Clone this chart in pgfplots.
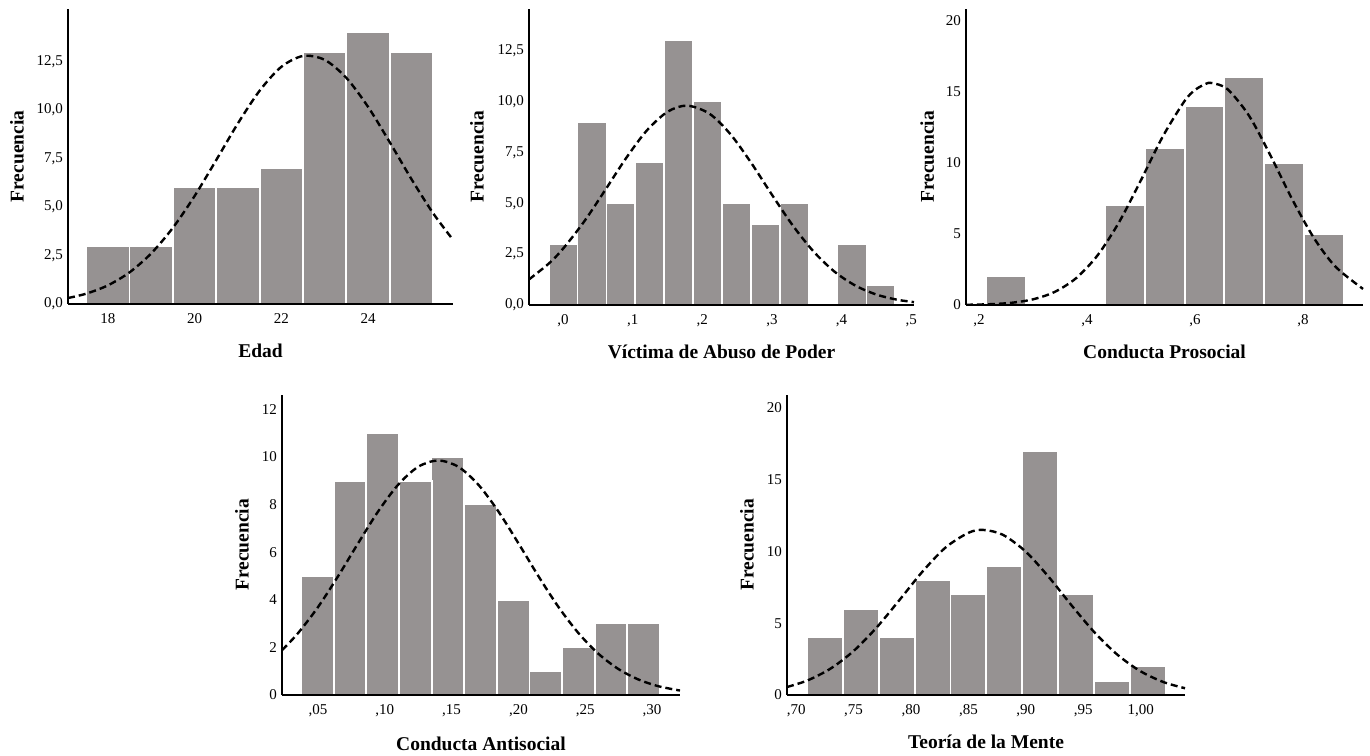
\documentclass[border=0pt]{standalone}
\usepackage{fontspec}
\setmainfont{Liberation Serif}
\usepackage{pgfplots}
\pgfplotsset{compat=1.18}
\definecolor{bargray}{RGB}{150,146,146}
\pgfplotsset{
  hist/.style={
    scale only axis,
    axis on top,
    clip=false,
    axis x line*=bottom, axis y line*=left,
    axis line style={line width=2.6pt, black},
    major tick length=0pt,
    tick style={draw=none},
    xticklabel style={font=\fontsize{15}{18}\selectfont, inner sep=0pt, anchor=north, yshift=-9pt},
    yticklabel style={font=\fontsize{15}{18}\selectfont, inner sep=0pt, anchor=east, xshift=-5pt},
    every axis y label/.style={rotate=90, anchor=center, font=\fontsize{19.5}{23}\selectfont\bfseries},
    every axis x label/.style={anchor=center, font=\fontsize{19.5}{23}\selectfont\bfseries},
    ylabel={Frecuencia},
    ymin=0,
  },
  bars/.style={ybar, fill=bargray, draw=white, line width=1.8pt},
  normal/.style={black, line width=2.4pt, dash pattern=on 7pt off 4pt, smooth, no markers},
}
\begin{document}
\begin{tikzpicture}
\path (0pt,0pt) rectangle (1370pt,755pt);

% Panel 1: Edad
\begin{axis}[hist, at={(68pt,451pt)}, anchor=south west, width=385pt, height=295pt,
  xmin=17.08, xmax=25.96, ymax=15.2,
  xtick={18,20,22,24}, xticklabels={18,20,22,24},
  ytick={0,2.5,5,7.5,10,12.5}, yticklabels={{0,0},{2,5},{5,0},{7,5},{10,0},{12,5}},
  xlabel={Edad},
  xlabel style={at={(axis description cs:0.5,-0.16)}},
  ylabel style={at={(axis description cs:-0.1325,0.5)}}]
\addplot[bars, bar width=1] coordinates {(18,3)(19,3)(20,6)(21,6)(22,7)(23,13)(24,14)(25,13)};
\addplot[normal] coordinates {(17.08,0.309)(17.5,0.532)(18,0.960)(18.5,1.632)(19,2.610)(19.5,3.930)(20,5.564)(20.5,7.421)(21,9.310)(21.5,10.99)(22,12.22)(22.5,12.78)(23,12.58)(23.5,11.65)(24,10.16)(24.5,8.34)(25,6.44)(25.5,4.68)(25.96,3.31)};
\end{axis}

% Panel 2: Victima de Abuso de Poder
\begin{axis}[hist, at={(529pt,450pt)}, anchor=south west, width=385pt, height=296pt,
  xmin=-0.049, xmax=0.504, ymax=14.55,
  xtick={0,0.1,0.2,0.3,0.4,0.5}, xticklabels={{,0},{,1},{,2},{,3},{,4},{,5}},
  ytick={0,2.5,5,7.5,10,12.5}, yticklabels={{0,0},{2,5},{5,0},{7,5},{10,0},{12,5}},
  xlabel={Víctima de Abuso de Poder},
  xlabel style={at={(axis description cs:0.5,-0.159)}},
  ylabel style={at={(axis description cs:-0.135,0.5)}}]
\addplot[bars, bar width=0.0415] coordinates {(0,3)(0.0415,9)(0.083,5)(0.1245,7)(0.166,13)(0.2075,10)(0.249,5)(0.2905,4)(0.332,5)(0.415,3)(0.4565,1)};
\addplot[normal] coordinates {(-0.049,1.256)(-0.02,2.054)(0.0,2.771)(0.03,4.093)(0.06,5.626)(0.09,7.197)(0.12,8.570)(0.15,9.498)(0.178,9.8)(0.21,9.408)(0.24,8.409)(0.27,6.994)(0.30,5.417)(0.33,3.902)(0.36,2.618)(0.39,1.634)(0.42,0.950)(0.45,0.513)(0.48,0.258)(0.504,0.142)};
\end{axis}

% Panel 3: Conducta Prosocial
\begin{axis}[hist, at={(966pt,450pt)}, anchor=south west, width=397pt, height=296pt,
  xmin=0.176, xmax=0.911, ymax=20.8,
  xtick={0.2,0.4,0.6,0.8}, xticklabels={{,2},{,4},{,6},{,8}},
  ytick={0,5,10,15,20}, yticklabels={0,5,10,15,20},
  xlabel={Conducta Prosocial},
  xlabel style={at={(axis description cs:0.5,-0.159)}},
  ylabel style={at={(axis description cs:-0.098,0.5)}}]
\addplot[bars, bar width=0.0735] coordinates {(0.25,2)(0.4705,7)(0.544,11)(0.6175,14)(0.691,16)(0.7645,10)(0.838,5)};
\addplot[normal] coordinates {(0.176,0.015)(0.22,0.055)(0.26,0.155)(0.30,0.398)(0.34,0.916)(0.38,1.891)(0.42,3.512)(0.46,5.861)(0.50,8.781)(0.54,11.82)(0.58,14.30)(0.60,15.11)(0.62,15.54)(0.631,15.6)(0.66,15.17)(0.70,13.30)(0.74,10.48)(0.78,7.42)(0.82,4.716)(0.86,2.694)(0.911,1.130)};
\end{axis}

% Panel 4: Conducta Antisocial
\begin{axis}[hist, at={(282pt,60pt)}, anchor=south west, width=398pt, height=300pt,
  xmin=0.023, xmax=0.321, ymax=12.6,
  xtick={0.05,0.10,0.15,0.20,0.25,0.30}, xticklabels={{,05},{,10},{,15},{,20},{,25},{,30}},
  ytick={0,2,4,6,8,10,12}, yticklabels={0,2,4,6,8,10,12},
  xlabel={Conducta Antisocial},
  xlabel style={at={(axis description cs:0.5,-0.163)}},
  ylabel style={at={(axis description cs:-0.1005,0.5)}}]
\addplot[bars, bar width=0.02443] coordinates {(0.0495,5)(0.0739,9)(0.0984,11)(0.1228,9)(0.1472,10)(0.1717,8)(0.1961,4)(0.2205,1)(0.2449,2)(0.2694,3)(0.2938,3)};
\addplot[normal] coordinates {(0.023,1.880)(0.035,2.597)(0.05,3.697)(0.065,4.990)(0.08,6.374)(0.095,7.711)(0.11,8.834)(0.125,9.586)(0.14,9.85)(0.155,9.586)(0.17,8.834)(0.185,7.711)(0.20,6.374)(0.215,4.990)(0.23,3.697)(0.245,2.597)(0.26,1.727)(0.275,1.087)(0.29,0.648)(0.305,0.366)(0.321,0.187)};
\end{axis}

% Panel 5: Teoria de la Mente
\begin{axis}[hist, at={(787pt,60pt)}, anchor=south west, width=398pt, height=300pt,
  xmin=0.692, xmax=1.0386, ymax=20.9,
  xtick={0.70,0.75,0.80,0.85,0.90,0.95,1.00}, xticklabels={{,70},{,75},{,80},{,85},{,90},{,95},{1,00}},
  ytick={0,5,10,15,20}, yticklabels={0,5,10,15,20},
  xlabel={Teoría de la Mente},
  xlabel style={at={(axis description cs:0.5,-0.157)}},
  ylabel style={at={(axis description cs:-0.1005,0.5)}}]
\addplot[bars, bar width=0.03125] coordinates {(0.725,4)(0.75625,6)(0.7875,4)(0.81875,8)(0.85,7)(0.88125,9)(0.9125,17)(0.94375,7)(0.975,1)(1.00625,2)};
\addplot[normal] coordinates {(0.692,0.557)(0.71,1.020)(0.73,1.843)(0.75,3.066)(0.77,4.698)(0.79,6.624)(0.81,8.599)(0.83,10.27)(0.85,11.30)(0.863,11.5)(0.88,11.16)(0.90,9.98)(0.92,8.216)(0.94,6.225)(0.96,4.342)(0.98,2.789)(1.00,1.648)(1.02,0.896)(1.0386,0.472)};
\end{axis}
\end{tikzpicture}
\end{document}
